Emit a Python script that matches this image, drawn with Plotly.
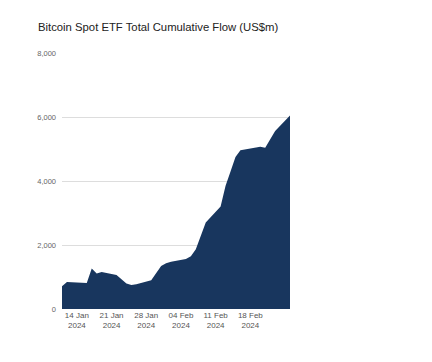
import plotly.graph_objects as go

dates = ["2024-01-11", "2024-01-12", "2024-01-16", "2024-01-17", "2024-01-18", "2024-01-19",
         "2024-01-22", "2024-01-23", "2024-01-24", "2024-01-25", "2024-01-26",
         "2024-01-29", "2024-01-30", "2024-01-31", "2024-02-01", "2024-02-02",
         "2024-02-05", "2024-02-06", "2024-02-07", "2024-02-08", "2024-02-09",
         "2024-02-12", "2024-02-13", "2024-02-14", "2024-02-15", "2024-02-16",
         "2024-02-20", "2024-02-21", "2024-02-22", "2024-02-23", "2024-02-26"]
cum_flow = [710, 845, 815, 1265, 1110, 1160,
            1060, 940, 800, 750, 775,
            900, 1120, 1340, 1430, 1480,
            1560, 1650, 1870, 2300, 2700,
            3200, 3850, 4300, 4750, 4960,
            5070, 5040, 5300, 5560, 6050]

tick_vals = ["2024-01-14", "2024-01-21", "2024-01-28", "2024-02-04", "2024-02-11", "2024-02-18"]
tick_text = ["14 Jan<br>2024", "21 Jan<br>2024", "28 Jan<br>2024", "04 Feb<br>2024", "11 Feb<br>2024", "18 Feb<br>2024"]
y_ticks = [0, 2000, 4000, 6000, 8000]
title = "Bitcoin Spot ETF Total Cumulative Flow (US$m)"

fig = go.Figure()
fig.add_trace(go.Scatter(
    x=dates, y=cum_flow, mode="lines", fill="tozeroy",
    line=dict(color="#18365e", width=0), fillcolor="#18365e",
    hoverinfo="x+y",
))

fig.update_layout(
    width=432, height=362,
    margin=dict(l=54, r=150, t=45, b=61),
    paper_bgcolor="white", plot_bgcolor="white",
    font=dict(family="Liberation Sans, Arial, sans-serif", color="#666666", size=8),
    title=dict(text=title, x=30 / 432, xanchor="left", y=1 - 19 / 362, yanchor="middle",
               font=dict(size=11.3, color="#222222", family="Liberation Sans, Arial, sans-serif")),
    showlegend=False,
    xaxis=dict(type="date", range=["2024-01-11", "2024-02-26"],
               tickvals=tick_vals, ticktext=tick_text, showgrid=False,
               zeroline=False, showline=False, ticks="", tickfont=dict(size=8, color="#555555")),
    yaxis=dict(range=[0, 8000], tickvals=y_ticks, tickformat=",", showgrid=True,
               gridcolor="#dddddd", gridwidth=1, zeroline=False, showline=False,
               ticks="", ticklabelstandoff=5, tickfont=dict(size=7.5, color="#666666")),
)

fig.write_html("out.html")
